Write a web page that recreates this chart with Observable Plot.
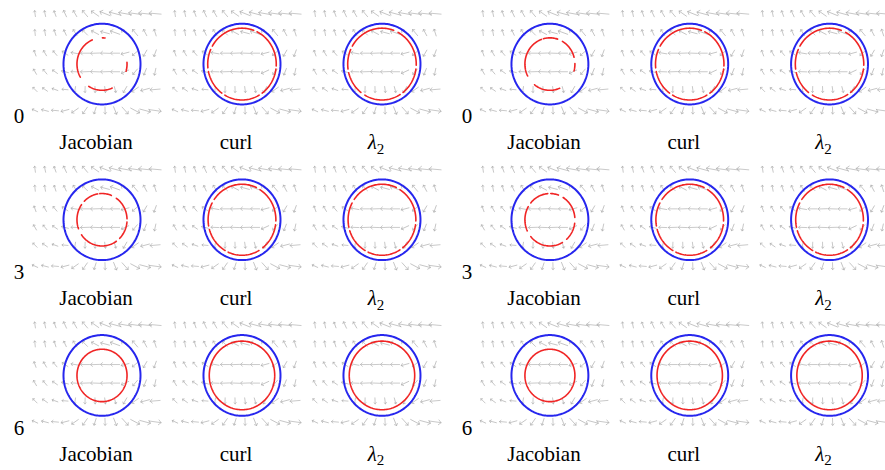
<!DOCTYPE html>
<html><head><meta charset="utf-8">
<script src="https://cdn.jsdelivr.net/npm/d3@7"></script>
<script src="https://cdn.jsdelivr.net/npm/@observablehq/plot@0.6"></script>
<style>
html,body{margin:0;padding:0;background:#fff;}
#wrap{display:flex;width:885px;height:470px;overflow:hidden;}
#wrap svg{display:block;flex:none;overflow:visible;}
#wrap svg text, #wrap svg tspan{font-family:"Liberation Serif","DejaVu Serif",serif !important;}
</style></head><body><div id="wrap"></div>
<script>
// ---- categories / labels
const methods = ["Jacobian", "curl", "λ₂"];
const times = ["0", "3", "6"];
const groups = ["A", "B"];

// ---- vector field grid (local units: blue circle radius = 1)
const gridX = [-1.74, -1.48, -1.22, -0.96, -0.70, -0.44, -0.18, 0.08, 0.34, 0.60, 0.86, 1.12, 1.38];
const gridY = [1.25, 0.78, 0.27, -0.19, -0.63, -1.15];
// arrow directions (degrees, clockwise from up), one row per gridY
const angleRows = [
  [-8, -12, -20, -25, -30, -40, -55, -68, -75, -80, -82, -84, -85],
  [-6, -10, -18, -25, -32, -45, -62, -75, -70, -55, -40, -28, -18],
  [-20, -30, -40, -55, -80, -90, -92, -88, -90, -105, -130, -150, -160],
  [-30, -40, -55, -75, -88, -92, -88, -92, -90, -115, -140, -158, -168],
  [-45, -55, -70, -85, -170, -178, 178, 172, 165, -150, -125, -105, -95],
  [-65, -75, -85, -105, -125, -145, -162, 178, 158, 138, 118, 105, 98]
];
// arrow lengths (px)
const lengthRows = [
  [6, 6, 6, 7, 7, 8, 9, 11, 12, 13, 13, 13, 12],
  [6, 6, 6, 6, 7, 7, 8, 9, 10, 9, 8, 7, 7],
  [6, 6, 6, 7, 8, 9, 9, 9, 9, 8, 7, 7, 7],
  [6, 6, 6, 7, 8, 9, 9, 9, 9, 8, 7, 7, 7],
  [6, 6, 6, 6, 6, 6, 6, 6, 6, 7, 8, 9, 10],
  [6, 7, 7, 8, 8, 8, 7, 7, 8, 9, 10, 11, 12]
];

// ---- detected vortex boundaries
const blueRadius = 1;
const redRadius = {"Jacobian": [0.65, 0.65, 0.65], "curl": [0.89, 0.88, 0.85], "λ₂": [0.89, 0.88, 0.85]};
// red contour pieces: [start°, end°] (counter-clockwise from east)
const redArcs = {
  "A|0|Jacobian": [[113, 210], [238, 294], [83, 89], [344, 364]],
  "A|0|curl": [[70, 150], [156, 186], [192, 234], [240, 300], [306, 352], [357, 424]],
  "A|0|λ₂": [[70, 150], [156, 188], [194, 232], [240, 302], [308, 352], [358, 422]],
  "A|3|Jacobian": [[100, 135], [145, 200], [215, 305], [315, 355], [2, 55], [68, 95]],
  "A|3|curl": [[65, 145], [152, 190], [196, 240], [246, 300], [308, 352], [358, 418]],
  "A|3|λ₂": [[65, 145], [152, 192], [198, 240], [246, 302], [308, 352], [358, 418]],
  "A|6|Jacobian": [[0, 360]],
  "A|6|curl": [[0, 360]],
  "A|6|λ₂": [[0, 360]],
  "B|0|Jacobian": [[110, 207], [232, 293], [72, 105], [15, 60], [345, 361]],
  "B|0|curl": [[70, 150], [156, 186], [192, 234], [240, 300], [306, 352], [357, 424]],
  "B|0|λ₂": [[70, 150], [156, 188], [194, 232], [240, 302], [308, 352], [358, 422]],
  "B|3|Jacobian": [[95, 140], [150, 205], [220, 300], [312, 352], [5, 58], [70, 88]],
  "B|3|curl": [[65, 145], [152, 190], [196, 240], [246, 300], [308, 352], [358, 418]],
  "B|3|λ₂": [[65, 145], [152, 192], [198, 240], [246, 302], [308, 352], [358, 418]],
  "B|6|Jacobian": [[0, 360]],
  "B|6|curl": [[0, 360]],
  "B|6|λ₂": [[0, 360]]
};

// ---- build tables
function arcPoints(r, a0, a1, id, m, t) {
  const pts = [];
  const n = Math.max(2, Math.ceil(Math.abs(a1 - a0) / 2));
  for (let i = 0; i <= n; i++) {
    const a = (a0 + (a1 - a0) * i / n) * Math.PI / 180;
    pts.push({m, t, id, x: r * Math.cos(a), y: r * Math.sin(a)});
  }
  return pts;
}

function makePlot(g, width, marginLeft, marginRight) {
  const field = [], blue = [], red = [], labels = [];
  for (const m of methods) for (const t of times) {
    gridY.forEach((y, r) => gridX.forEach((x, c) =>
      field.push({m, t, x, y, rot: angleRows[r][c], len: lengthRows[r][c]})));
    blue.push(...arcPoints(blueRadius, 0, 360, m + t, m, t));
    const ti = times.indexOf(t);
    redArcs[g + "|" + t + "|" + m].forEach((a, k) =>
      red.push(...arcPoints(redRadius[m][ti], a[0], a[1], m + t + k, m, t)));
    labels.push({m, t});
  }
  const rowLabels = times.map(t => ({m: "Jacobian", t}));
  return Plot.plot({
    width, height: 470,
    marginLeft, marginRight, marginTop: 5.5, marginBottom: 37,
    style: {fontFamily: "'Liberation Serif', 'DejaVu Serif', serif"},
    x: {domain: [-1.766, 1.455], axis: null},
    y: {domain: [-1.439, 1.439], axis: null},
    fx: {domain: methods, paddingInner: 0.114, paddingOuter: 0, axis: null, round: false},
    fy: {domain: times, paddingInner: 0.254, paddingOuter: 0, axis: null, round: false},
    length: {domain: [0, 20], range: [0, 20]},
    marks: [
      Plot.vector(field, {fx: "m", fy: "t", x: "x", y: "y", rotate: "rot", length: "len",
        stroke: "#a8a8a8", strokeWidth: 0.6, anchor: "middle"}),
      Plot.line(blue, {fx: "m", fy: "t", x: "x", y: "y", z: "id", stroke: "#2626ee", strokeWidth: 2}),
      Plot.line(red, {fx: "m", fy: "t", x: "x", y: "y", z: "id", stroke: "#f02424", strokeWidth: 1.6}),
      Plot.text(labels, {fx: "m", fy: "t", text: "m", frameAnchor: "bottom", dy: 20.5,
        lineAnchor: "middle", fontSize: 21, fill: "#000"}),
      Plot.text(rowLabels, {fx: "m", fy: "t", text: "t", frameAnchor: "bottom-left", dx: -15, dy: -5.5,
        textAnchor: "middle", lineAnchor: "middle", fontSize: 21, fill: "#000"})
    ]
  });
}

function fixLambda(svg) {
  svg.querySelectorAll("text, tspan").forEach(el => {
    if (el.children.length === 0 && el.textContent === "λ₂") {
      el.textContent = "";
      const ns = "http://www.w3.org/2000/svg";
      const a = document.createElementNS(ns, "tspan");
      a.setAttribute("font-style", "italic");
      a.textContent = "λ";
      const b = document.createElementNS(ns, "tspan");
      b.setAttribute("font-size", "15");
      b.setAttribute("dy", "0.3em");
      b.textContent = "2";
      el.appendChild(a); el.appendChild(b);
    }
  });
}

const wrap = document.getElementById("wrap");
const left = makePlot("A", 448, 33.5, 10.5);
const right = makePlot("B", 437, 33.5, 0);
fixLambda(left); fixLambda(right);
wrap.appendChild(left);
wrap.appendChild(right);
</script></body></html>
